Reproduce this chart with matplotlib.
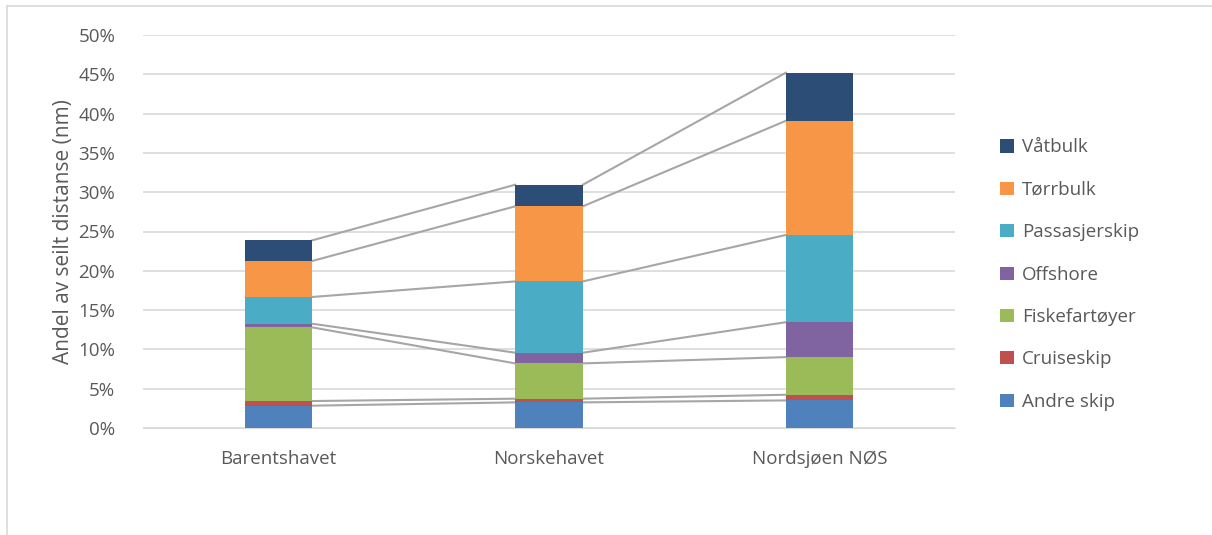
import numpy as np
import matplotlib.pyplot as plt
from matplotlib.lines import Line2D
from matplotlib.ticker import FuncFormatter

plt.rcParams['font.family'] = ['Open Sans', 'DejaVu Sans']

# Shares of sailed distance (%) per sea area, bottom to top
regions = ['Barentshavet', 'Norskehavet', 'Nordsjøen NØS']
series = ['Andre skip', 'Cruiseskip', 'Fiskefartøyer', 'Offshore',
          'Passasjerskip', 'Tørrbulk', 'Våtbulk']
andre = [2.84, 3.26, 3.51]
cruise = [0.59, 0.47, 0.72]
fiske = [9.37, 4.49, 4.79]
offshore = [0.47, 1.36, 4.44]
passasjer = [3.40, 9.07, 11.10]
torrbulk = [4.58, 9.55, 14.52]
vatbulk = [2.62, 2.75, 6.12]
colors = ['#4F81BD', '#C0504D', '#9BBB59', '#8064A2', '#4BACC6', '#F79646', '#2C4D75']

data = np.array([andre, cruise, fiske, offshore, passasjer, torrbulk, vatbulk]) / 100
text_col = '#595959'

fig = plt.figure(figsize=(12.12, 5.35), dpi=100)
ax = fig.add_axes([143/1212, 1 - 428/535, 812/1212, 393/535])

x = np.arange(len(regions))
width = 0.25
bottom = np.zeros(len(regions))
for vals, col, name in zip(data, colors, series):
    ax.bar(x, vals, width, bottom=bottom, color=col, label=name, zorder=3)
    bottom = bottom + vals
    # series lines between bar tops
    for i in range(len(regions) - 1):
        ax.plot([x[i] + width/2, x[i+1] - width/2], [bottom[i], bottom[i+1]],
                color='#A6A6A6', lw=1.5, zorder=2)

ax.set_xlim(-0.5, 2.5)
ax.set_ylim(0, 0.5)
ax.set_yticks(np.arange(0, 0.51, 0.05))
ax.yaxis.set_major_formatter(FuncFormatter(lambda v, p: f'{v*100:.0f}%'))
ax.set_xticks(x)
ax.set_xticklabels(regions)
ax.grid(axis='y', color='#D9D9D9', lw=1.2, zorder=0)
for s in ax.spines.values():
    s.set_visible(False)
ax.spines['bottom'].set_visible(True)
ax.spines['bottom'].set_color('#D9D9D9')
ax.tick_params(length=0, colors=text_col, labelsize=13.5)
ax.tick_params(axis='x', pad=16)
ax.tick_params(axis='y', pad=20)
ax.set_ylabel('Andel av seilt distanse (nm)', color=text_col, fontsize=15, labelpad=3)

handles, labels = ax.get_legend_handles_labels()
leg = fig.legend(handles[::-1], labels[::-1], loc='upper left',
                 bbox_to_anchor=(993/1212, 1 - 131/535), frameon=False,
                 fontsize=13.5, handlelength=0.7, handleheight=0.7,
                 handletextpad=0.45, labelspacing=1.3, borderaxespad=0)
for t in leg.get_texts():
    t.set_color(text_col)

# chart border
fig.add_artist(Line2D([7/1212, 7/1212], [0, 1 - 6/535], color='#D9D9D9', lw=1.2))
fig.add_artist(Line2D([7/1212, 1], [1 - 6/535, 1 - 6/535], color='#D9D9D9', lw=1.2))

fig.savefig('out.png', dpi=100)
